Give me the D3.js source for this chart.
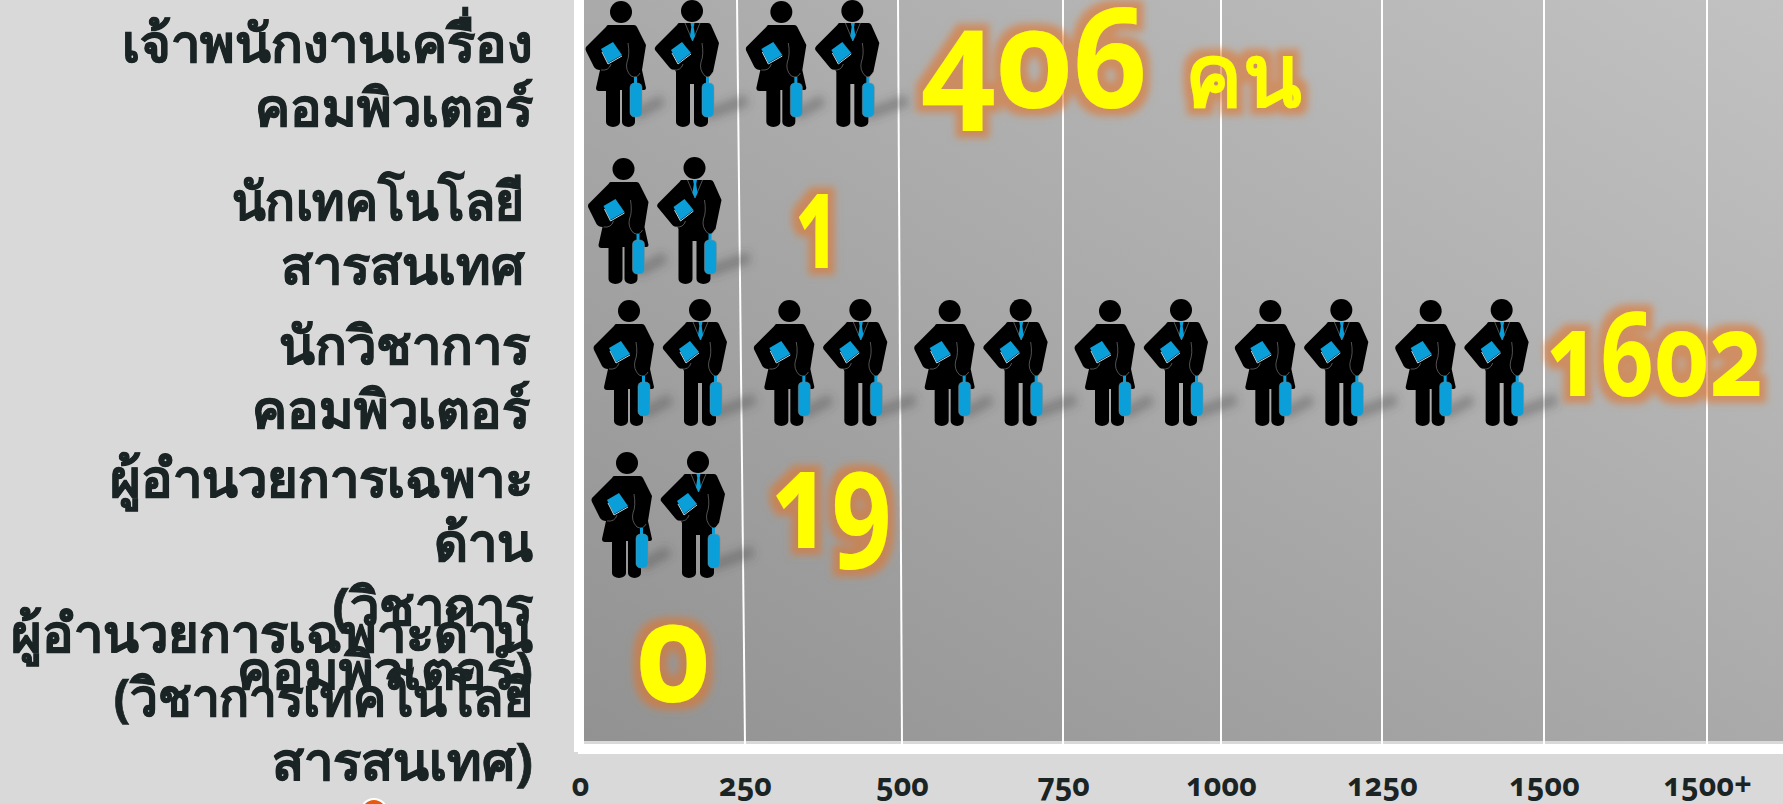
<!DOCTYPE html>
<html>
<head>
<meta charset="utf-8">
<script src="https://cdn.jsdelivr.net/npm/d3@7"></script>
<style>
  html, body { margin: 0; padding: 0; background: #d9d9d9; overflow: hidden; }
  svg { display: block; }
  text { font-family: "Noto Sans", "Open Sans", sans-serif; font-weight: 700; font-variant-numeric: oldstyle-nums; }
</style>
</head>
<body>
<svg width="1783" height="804"></svg>
<script>
// data
var categories = ["computerOfficer", "itTechnician", "computerScientist", "expertComputer", "expertIT"];
var categoryLines = [
  ["เจ้าพนักงานเครื่อง", "คอมพิวเตอร์"],
  ["นักเทคโนโลยี", "สารสนเทศ"],
  ["นักวิชาการ", "คอมพิวเตอร์"],
  ["ผู้อำนวยการเฉพาะ", "ด้าน", "(วิชาการ", "คอมพิวเตอร์)"],
  ["ผู้อำนวยการเฉพาะด้าน", "(วิชาการเทคโนโลยี", "สารสนเทศ)"]
];
var values = [406, 1, 1602, 19, 0];
var valueLabels = ["406", "1", "1602", "19", "0"];
var tickValues = [0, 250, 500, 750, 1000, 1250, 1500, 1750];
var tickLabels = ["0", "250", "500", "750", "1000", "1250", "1500", "1500+"];

// layout, all by hand to sit like the slide
var svg = d3.select("svg");
var plotLeft = 584, plotBottom = 741;
var gridLean = [0, 8, 4, 0, 0, 0, 0, 0];
var x = d3.scaleLinear().domain(tickValues).range([580, 745, 902, 1063, 1221, 1382, 1544, 1707]);
var rowY = d3.scaleOrdinal(categories, [0, 157, 299, 451, 600]);
var rowShift = d3.scaleOrdinal(categories, [0, 2.5, 8, 6, 0]);
var textBase = d3.scaleOrdinal(categories, [62, 220, 364, 497, 652]);
var textRight = d3.scaleOrdinal(categories, [533, 524, 530, 533, 533]);
var lineSqueeze = d3.scaleOrdinal(["นักเทคโนโลยี", "(วิชาการเทคโนโลยี"], [0.94, 0.945]).unknown(1);
var valueDx = d3.scaleOrdinal(categories, [19, 50, 2, 26, 57]);
var valueBase = d3.scaleOrdinal(categories, [108, 268, 396, 548, 702]);
var valueSize = d3.scaleOrdinal(categories, [139, 132, 116, 136, 139]);
var valueWidth = d3.scaleOrdinal(categories, [228, 46, 218, 122, 74]);
var pairX = d3.scaleLinear().domain([0, 6]).range([585, 1547]);
var unit = 250;

var defs = svg.append("defs");

var grad = defs.append("linearGradient").attr("id", "plotFill")
  .attr("x1", 0).attr("y1", 1).attr("x2", 1).attr("y2", 0);
grad.append("stop").attr("offset", 0).attr("stop-color", "#929292");
grad.append("stop").attr("offset", 1).attr("stop-color", "#c2c2c2");

var blur = defs.append("filter").attr("id", "shadowBlur")
  .attr("x", "-50%").attr("y", "-100%").attr("width", "200%").attr("height", "300%");
blur.append("feGaussianBlur").attr("stdDeviation", 5);

var glow = defs.append("filter").attr("id", "glow")
  .attr("x", "-30%").attr("y", "-30%").attr("width", "160%").attr("height", "160%");
glow.append("feMorphology").attr("in", "SourceAlpha").attr("operator", "dilate").attr("radius", 7).attr("result", "fat");
glow.append("feGaussianBlur").attr("in", "fat").attr("stdDeviation", 3.5).attr("result", "soft");
glow.append("feFlood").attr("flood-color", "#e0742a").attr("flood-opacity", 0.6).attr("result", "tint");
glow.append("feComposite").attr("in", "tint").attr("in2", "soft").attr("operator", "in").attr("result", "halo");
var glowMerge = glow.append("feMerge");
glowMerge.append("feMergeNode").attr("in", "halo");
glowMerge.append("feMergeNode").attr("in", "SourceGraphic");

// figures
var black = "#000", blue = "#0a9fd9", seam = "#8a8a8a";
var woman = defs.append("g").attr("id", "woman");
woman.append("path").attr("fill", black)
  .attr("d", "M23,25 H49 Q51,25 52,27 L61,45 L57,70 L61,88 Q61,90 59,90 L50,90 V122 A6.5,5 0 0 1 37,122 V90 H35 V122 A7,5 0 0 1 21,122 V91 H14 Q11,91 11,88 L15,70 Q11,70 9,67 L1,51 Q0,49 1,47 L21,27 Q22,25 23,25 Z");
woman.append("circle").attr("cx", 36).attr("cy", 12).attr("r", 11).attr("fill", black);
woman.append("path").attr("fill", "none").attr("stroke", seam).attr("stroke-width", 0.6)
  .attr("d", "M43,43 Q45,55 42,62 Q40,70 46,76 Q52,79 55,73 M16,70 Q24,71 26,64");
woman.append("path").attr("fill", blue).attr("d", "M28,42 L37,55 L23,63 L16,49 Z");
woman.append("path").attr("fill", "none").attr("stroke", "#bcd8e4").attr("stroke-width", 1).attr("d", "M37,56 L23,64 L17,52");
woman.append("rect").attr("x", 49).attr("y", 77).attr("width", 3).attr("height", 7).attr("fill", blue);
woman.append("rect").attr("x", 45).attr("y", 83).attr("width", 12).attr("height", 34).attr("rx", 4.5).attr("fill", blue).attr("stroke", seam).attr("stroke-width", 0.5);

var man = defs.append("g").attr("id", "man");
man.append("path").attr("fill", black)
  .attr("d", "M24,23 H53 Q55,23 56,25 L64,43 L58,72 L53,78 V122 A7,5 0 0 1 39,122 V84 H35 V122 A7,5 0 0 1 21,122 V72 L20,70 Q16,70 14,67 L0,50 Q-1,48 1,46 L22,25 Q23,23 24,23 Z");
man.append("circle").attr("cx", 37).attr("cy", 11).attr("r", 11).attr("fill", black);
man.append("path").attr("fill", "none").attr("stroke", seam).attr("stroke-width", 0.6)
  .attr("d", "M47,43 Q49,55 46,62 Q44,70 50,76 Q55,79 58,72 M18,70 Q26,71 28,64 M30,23 L37.5,41 L45,23");
man.append("path").attr("fill", blue).attr("d", "M35.5,23 H39.5 L38.7,27 L40,36 L37.5,41 L35,36 L36.3,27 Z");
man.append("path").attr("fill", blue).attr("d", "M27,42 L36,53 L23,63 L16,50 Z");
man.append("path").attr("fill", "none").attr("stroke", "#bcd8e4").attr("stroke-width", 1).attr("d", "M36,54 L23,64 L17,53");
man.append("rect").attr("x", 51).attr("y", 77).attr("width", 3).attr("height", 7).attr("fill", blue);
man.append("rect").attr("x", 47).attr("y", 83).attr("width", 12).attr("height", 34).attr("rx", 4.5).attr("fill", blue).attr("stroke", seam).attr("stroke-width", 0.5);

// plot frame
svg.append("rect").attr("x", 574).attr("y", 0).attr("width", 10).attr("height", 752).attr("fill", "#fff");
svg.append("rect").attr("x", 578).attr("y", 744).attr("width", 1205).attr("height", 10).attr("fill", "#fff");
svg.append("rect").attr("x", plotLeft).attr("y", 0).attr("width", 1783 - plotLeft).attr("height", plotBottom).attr("fill", "url(#plotFill)");

svg.append("g").selectAll("line")
  .data(tickValues.slice(1))
  .enter().append("line")
  .attr("x1", function (d, i) { return x(d) - gridLean[i + 1]; })
  .attr("y1", 0)
  .attr("x2", function (d) { return x(d); })
  .attr("y2", 744)
  .attr("stroke", "#fff")
  .attr("stroke-width", 2);

// one pair of figures for every 250 people, at least one pair if anybody
var pairs = [];
categories.forEach(function (c, i) {
  var n = values[i] > 0 ? Math.max(1, Math.round(values[i] / unit)) : 0;
  d3.range(n).forEach(function (p) { pairs.push({ cat: c, p: p }); });
});

var pair = svg.append("g").selectAll("g")
  .data(pairs)
  .enter().append("g")
  .attr("transform", function (d) { return "translate(" + (pairX(d.p) + rowShift(d.cat)) + "," + rowY(d.cat) + ")"; });

pair.append("path").attr("filter", "url(#shadowBlur)").attr("fill", "none")
  .attr("stroke", "#444").attr("stroke-opacity", 0.4).attr("stroke-width", 11)
  .attr("d", "M50,115 L78,100 M120,115 L162,100");
pair.append("use").attr("href", "#woman");
pair.append("use").attr("href", "#man").attr("x", 70);

// category names, overlap in the last two rows is how the slide has it
var nameLines = [];
categories.forEach(function (c, i) {
  categoryLines[i].forEach(function (t, j) { nameLines.push({ cat: c, text: t, j: j }); });
});

svg.append("g").selectAll("text")
  .data(nameLines)
  .enter().append("text")
  .attr("text-anchor", "end")
  .attr("fill", "#1b2424")
  .attr("stroke", "#1b2424")
  .attr("stroke-width", 0.7)
  .attr("font-size", 52.5)
  .attr("x", function (d) { return textRight(d.cat); })
  .attr("y", function (d) { return textBase(d.cat) + d.j * 64; })
  .text(function (d) { return d.text; })
  .each(function (d) {
    var k = lineSqueeze(d.text);
    if (k < 1) {
      d3.select(this).attr("textLength", this.getComputedTextLength() * k).attr("lengthAdjust", "spacingAndGlyphs");
    }
  });

// values
svg.append("g").selectAll("text")
  .data(categories)
  .enter().append("text")
  .attr("filter", "url(#glow)")
  .attr("fill", "#ffff00")
  .attr("x", function (d, i) {
    var n = values[i] > 0 ? Math.max(1, Math.round(values[i] / unit)) : 0;
    return x(n * unit) + valueDx(d);
  })
  .attr("y", function (d) { return valueBase(d); })
  .attr("font-size", function (d) { return valueSize(d); })
  .attr("textLength", function (d) { return valueWidth(d); })
  .attr("lengthAdjust", "spacingAndGlyphs")
  .text(function (d, i) { return valueLabels[i]; });

svg.append("text").attr("filter", "url(#glow)").attr("fill", "#ffff00")
  .attr("x", x(500) + 283).attr("y", valueBase(categories[0]) - 2).attr("font-size", 86).text("คน");

// axis
var axis = svg.append("g")
  .attr("transform", "translate(0,754)")
  .call(d3.axisBottom(x).tickValues(tickValues).tickSize(0).tickPadding(19)
    .tickFormat(function (d, i) { return tickLabels[i]; }));
axis.select(".domain").remove();
axis.selectAll("text").attr("fill", "#1b2424").attr("font-size", 32)
  .style("font-family", "\"Noto Sans\", sans-serif").style("font-weight", 700)
  .each(function () {
    var t = d3.select(this);
    t.attr("textLength", this.getComputedTextLength() * 0.95).attr("lengthAdjust", "spacingAndGlyphs");
  });

// bit of the next slide element poking in at the bottom
svg.append("circle").attr("cx", 374).attr("cy", 812).attr("r", 13).attr("fill", "#e8590c").attr("stroke", "#fff").attr("stroke-width", 2);
</script>
</body>
</html>
